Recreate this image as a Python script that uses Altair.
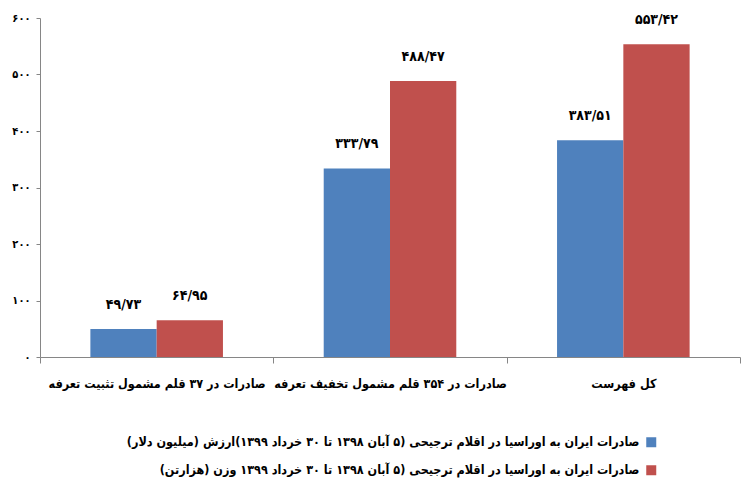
import altair as alt
import pandas as pd

categories = [
    "صادرات در ۳۷ قلم مشمول تثبیت تعرفه",
    "صادرات در ۳۵۴ قلم مشمول تخفیف تعرفه",
    "کل فهرست",
]
series = [
    "صادرات ایران به اوراسیا در اقلام ترجیحی (۵ آبان ۱۳۹۸ تا ۳۰ خرداد ۱۳۹۹)ارزش (میلیون دلار)",
    "صادرات ایران به اوراسیا  در اقلام ترجیحی (۵ آبان ۱۳۹۸ تا ۳۰ خرداد ۱۳۹۹ وزن (هزارتن)",
]
value_series = [49.73, 333.79, 383.51]
weight_series = [64.95, 488.47, 553.42]
value_labels = ["۴۹/۷۳", "۳۳۳/۷۹", "۳۸۳/۵۱"]
weight_labels = ["۶۴/۹۵", "۴۸۸/۴۷", "۵۵۳/۴۲"]
y_ticks = [0, 100, 200, 300, 400, 500, 600]
y_tick_labels = ["۰", "۱۰۰", "۲۰۰", "۳۰۰", "۴۰۰", "۵۰۰", "۶۰۰"]
colors = ["#4F81BD", "#C0504D"]

rows = []
for i, c in enumerate(categories):
    rows.append({"cat": c, "series": series[0], "v": value_series[i], "lab": value_labels[i]})
    rows.append({"cat": c, "series": series[1], "v": weight_series[i], "lab": weight_labels[i]})
df = pd.DataFrame(rows)

FONT = "DejaVu Sans Condensed"
label_arr = "[" + ",".join("'" + s + "'" for s in y_tick_labels) + "]"

x_enc = alt.X(
    "cat:N",
    sort=categories,
    scale=alt.Scale(paddingInner=0, paddingOuter=0),
    axis=alt.Axis(
        title=None,
        labelAngle=0,
        labelLimit=0,
        tickBand="extent",
        tickSize=6,
        tickColor="#868686",
        domainColor="#868686",
        labelPadding=14,
        labelFont=FONT,
        labelFontWeight="bold",
        labelFontSize=12.5,
        labelColor="#000000",
    ),
)
xo_enc = alt.XOffset(
    "series:N",
    sort=series,
    scale=alt.Scale(paddingInner=0, paddingOuter=0.76),
)
y_enc = alt.Y(
    "v:Q",
    scale=alt.Scale(domain=[0, 600]),
    axis=alt.Axis(
        title=None,
        values=y_ticks,
        labelExpr=label_arr + "[datum.value/100]",
        grid=False,
        tickSize=4,
        tickColor="#868686",
        domainColor="#868686",
        labelPadding=6,
        labelFont=FONT,
        labelFontWeight="bold",
        labelFontSize=11,
        labelColor="#000000",
    ),
)

bars = alt.Chart(df).mark_bar().encode(
    x=x_enc,
    xOffset=xo_enc,
    y=y_enc,
    color=alt.Color(
        "series:N",
        sort=series,
        scale=alt.Scale(domain=series, range=colors),
        legend=alt.Legend(
            title=None,
            orient="none",
            legendX=605,
            legendY=418,
            direction="vertical",
            symbolType="square",
            symbolSize=100,
            symbolStrokeWidth=0,
            labelAlign="right",
            labelOffset={"expr": "-18"},
            labelLimit=0,
            labelFont=FONT,
            labelFontWeight="bold",
            labelFontSize=12.5,
            labelColor="#000000",
            rowPadding=15,
            labelExpr="'\u202b' + datum.label + '\u202c'",
        ),
    ),
)

texts = alt.Chart(df).mark_text(
    baseline="bottom",
    dy=-17,
    font=FONT,
    fontWeight="bold",
    fontSize=14,
    color="#000000",
).encode(
    x=alt.X("cat:N", sort=categories),
    xOffset=alt.XOffset("series:N", sort=series),
    y=alt.Y("v:Q"),
    text="lab:N",
)

chart = (
    alt.layer(bars, texts)
    .properties(
        width=700,
        height=339,
        padding={"left": 32, "top": 10, "right": 1, "bottom": 130},
        autosize=alt.AutoSizeParams(type="none"),
        background="white",
    )
    .configure_view(stroke=None)
)

chart.save("out.html", embed_options={"renderer": "svg", "actions": False})
